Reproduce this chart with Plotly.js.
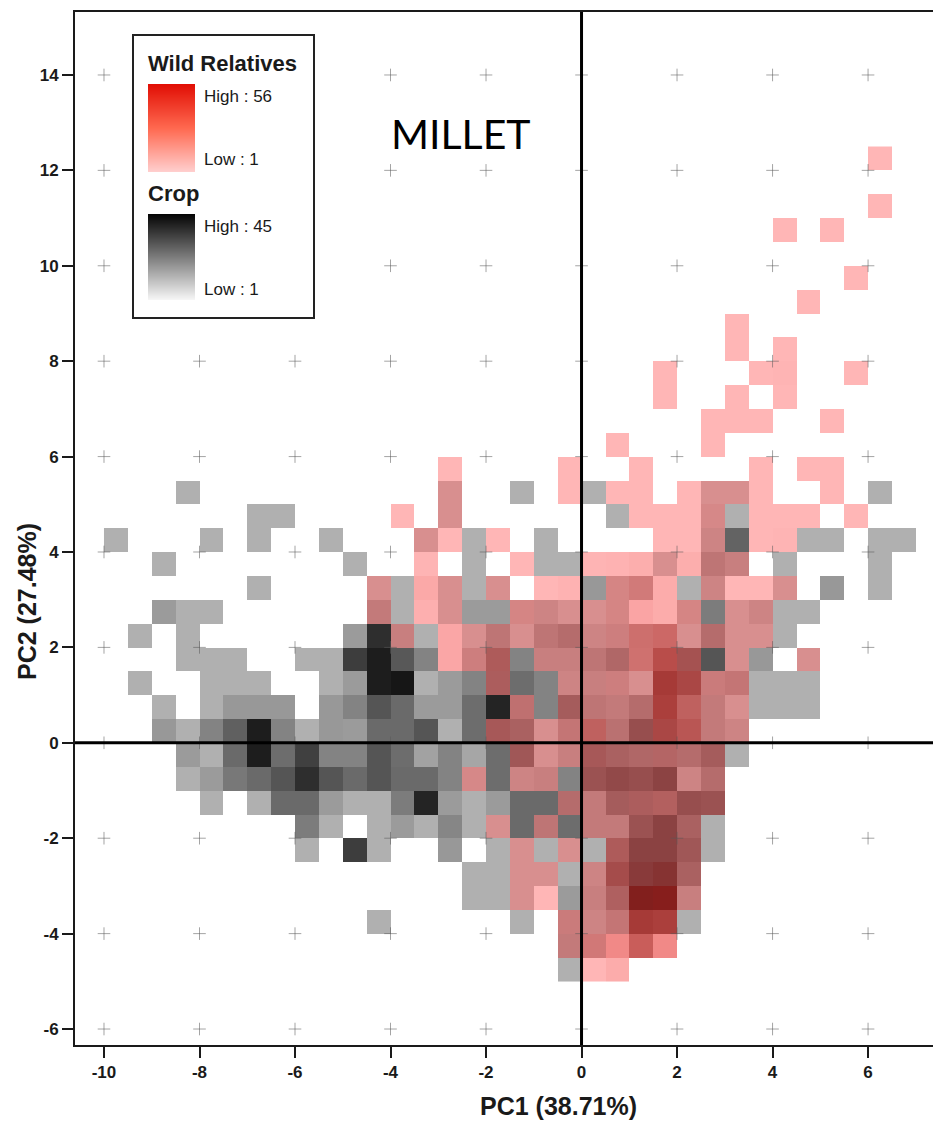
<!DOCTYPE html>
<html>
<head>
<meta charset="utf-8">
<script src="https://cdn.plot.ly/plotly-3.0.1.min.js"></script>
<style>html,body{margin:0;padding:0;background:#fff;overflow:hidden}</style>
</head>
<body>
<div id="chart" style="width:933px;height:1122px"></div>
<script>
// Grid cell centres: 0.5 x 0.5 PCA bins; columns 0..33, rows from PC2 = -5 upward
const cellX = [-9.75,-9.25,-8.75,-8.25,-7.75,-7.25,-6.75,-6.25,-5.75,-5.25,-4.75,-4.25,-3.75,-3.25,-2.75,-2.25,-1.75,-1.25,-0.75,-0.25,0.25,0.75,1.25,1.75,2.25,2.75,3.25,3.75,4.25,4.75,5.25,5.75,6.25,6.75];
const cellY = [-4.75,-4.25,-3.75,-3.25,-2.75,-2.25,-1.75,-1.25,-0.75,-0.25,0.25,0.75,1.25,1.75,2.25,2.75,3.25,3.75,4.25,4.75,5.25,5.75,6.25,6.75,7.25,7.75,8.25,8.75,9.25,9.75,10.25,10.75,11.25,11.75,12.25];

// Crop counts, one entry per row of cellY: {column: count}
const cropRows = [
 {19:1},
 {19:13,20:1,22:1},
 {11:1,17:1,19:8,20:7,21:11,22:21,23:18,24:1},
 {15:1,16:1,17:1,19:7,20:10,21:23,22:43,23:39,24:10},
 {15:1,16:1,17:1,18:1,19:1,20:7,21:26,22:45,23:45,24:27},
 {8:1,10:34,11:1,14:8,16:1,17:1,18:1,19:1,20:1,21:22,22:45,23:45,24:33,25:1},
 {8:16,9:1,11:1,12:7,13:1,14:13,15:1,16:1,17:21,18:16,19:20,20:13,21:13,22:36,23:45,24:27,25:1},
 {4:1,6:1,7:21,8:21,9:7,10:1,11:1,12:16,13:41,14:7,15:1,16:7,17:21,18:21,19:21,20:13,21:30,22:25,23:19,24:38,25:36},
 {3:1,4:7,5:17,6:21,7:27,8:38,9:27,10:21,11:27,12:21,13:21,14:14,15:1,16:20,17:7,18:10,19:14,20:36,21:41,22:38,23:44,24:7,25:21},
 {3:7,4:1,5:21,6:43,7:20,8:33,9:14,10:14,11:27,12:20,13:5,14:14,15:4,16:20,17:33,18:1,19:10,20:28,21:27,22:24,23:20,24:21,25:30,26:1},
 {2:8,3:1,4:14,5:24,6:43,7:14,8:1,9:8,10:7,11:21,12:21,13:27,14:1,15:20,16:28,17:27,18:1,19:11,20:10,21:18,22:38,23:20,24:12,25:13,26:7},
 {2:1,4:1,5:8,6:8,7:8,9:8,10:14,11:27,12:21,13:7,14:7,15:20,16:41,17:14,18:14,19:30,20:16,21:13,22:21,23:18,24:10,25:13,26:1,27:1,28:1,29:1},
 {1:1,4:1,5:1,6:1,9:1,10:7,11:43,12:45,13:1,14:7,15:14,16:25,17:20,18:14,19:7,20:10,21:6,22:1,23:21,24:20,25:8,26:11,27:1,28:1,29:1},
 {3:1,4:1,5:1,8:1,9:1,10:34,11:43,12:26,13:14,15:6,16:22,17:14,18:10,19:10,20:16,21:24,22:1,23:10,24:27,25:27,26:1,27:8,29:1},
 {1:1,3:1,10:7,11:38,12:10,13:1,15:1,16:16,17:1,18:16,19:21,20:7,21:6,22:2,23:1,24:1,25:21,26:1,27:1,28:1},
 {2:7,3:1,4:1,11:13,12:1,14:1,15:7,16:7,17:1,18:7,19:1,20:1,21:1,24:1,25:16,26:1,27:7,28:1,29:1},
 {6:1,11:1,12:1,14:1,15:1,16:1,20:8,21:1,22:1,24:1,25:7,28:1,30:8,32:1},
 {2:1,10:1,15:1,18:1,19:1,23:1,25:16,26:10,28:1,32:1},
 {0:1,4:1,6:1,9:1,13:1,15:1,18:1,25:7,26:23,29:1,30:1,32:1,33:1},
 {6:1,7:1,14:1,21:1,25:1,26:1},
 {3:1,14:1,17:1,20:1,25:1,26:1,32:1},
 {},{},{},{},{},{},{},{},{},{},{},{},{},{}
];

// Wild relative counts, one entry per row of cellY: {column: count}
const wildRows = [
 {20:1,21:12},
 {19:1,20:26,21:50,22:56,23:50},
 {19:9,20:1,21:9,22:56,23:56},
 {17:1,18:1,20:1,21:9,22:43,23:51,24:1},
 {17:1,18:1,20:1,21:26,22:9,23:17,24:1},
 {17:1,19:1,21:17,22:1,23:1,24:1},
 {16:1,18:1,20:1,21:1,22:1,23:1,24:1},
 {19:1,20:1,21:1,22:9,23:17,24:1,25:1},
 {15:8,17:1,18:1,20:1,21:1,22:1,23:1,24:1,25:1},
 {17:1,18:1,19:1,20:9,21:1,22:1,23:9,24:1,25:1},
 {16:9,17:1,18:1,19:9,20:34,21:1,22:1,23:43,24:43,25:1,26:1},
 {17:9,19:1,20:1,21:1,22:1,23:56,24:34,25:1,26:1},
 {16:9,19:1,20:1,21:9,22:1,23:56,24:43,25:9,26:9},
 {14:18,15:9,16:17,18:1,19:1,20:1,21:1,22:34,23:56,24:17,26:1,29:1},
 {12:1,14:18,15:1,16:1,17:1,18:1,19:1,20:1,21:9,22:34,23:44,24:1,25:1,26:1,27:1},
 {11:1,13:8,14:1,17:12,18:1,19:1,20:1,21:12,22:20,23:12,24:12,26:1,27:1},
 {11:1,13:15,14:1,16:1,18:1,19:5,21:12,22:24,23:12,25:1,26:1,27:1,28:1},
 {13:3,17:1,20:3,21:5,22:10,23:1,24:10,25:1,26:1},
 {13:1,14:1,16:1,23:1,24:1,25:1,27:1,28:3},
 {12:1,14:1,22:1,23:1,24:1,25:8,27:1,28:1,29:1,31:1},
 {14:1,19:1,21:1,22:1,24:1,25:1,26:1,27:1,30:1},
 {14:1,19:1,22:1,27:1,29:1,30:1},
 {21:1,25:1},
 {25:1,26:1,27:1,30:1},
 {23:1,26:1,28:1},
 {23:1,27:1,28:3,31:1},
 {26:1,28:1},
 {26:1},
 {29:1},
 {31:1},
 {},
 {28:1,30:1},
 {32:1},
 {},
 {32:1}
];

const xTicks = [-10,-8,-6,-4,-2,0,2,4,6];
const xTickText = ["-10","-8","-6","-4","-2","0","2","4","6"];
const yTicks = [-6,-4,-2,0,2,4,6,8,10,12,14];
const yTickText = ["-6","-4","-2","0","2","4","6","8","10","12","14"];
const legendHidden = ["-8,10","-8,12","-8,14","-6,10","-6,12","-6,14"];
const xTitle = "PC1 (38.71%)";
const yTitle = "PC2 (27.48%)";
const chartLabel = "MILLET";
const wildLegend = ["Wild Relatives","High : 56","Low : 1"];
const cropLegend = ["Crop","High : 45","Low : 1"];
const wildExtent = [1,56];
const cropExtent = [1,45];

const toMatrix = rows => rows.map(r => cellX.map((_,i) => (r[i] === undefined ? null : r[i])));

const W = 933, H = 1122, L = 75, T = 12, B = 77;
const pw = W - L, ph = H - T - B;
const px = v => (v - L) / pw;
const py = v => (H - B - v) / ph;

const gridPts = {x:[], y:[]};
xTicks.forEach(x => yTicks.forEach(y => {
  if (!legendHidden.includes(x + "," + y)) { gridPts.x.push(x); gridPts.y.push(y); }
}));

const traces = [
  {type:"heatmap", x:cellX, y:cellY, z:toMatrix(cropRows), zmin:1, zmax:45,
   colorscale:[[0,"rgb(176,176,176)"],[1,"rgb(22,22,22)"]], showscale:false, hoverinfo:"skip"},
  {type:"heatmap", x:cellX, y:cellY, z:toMatrix(wildRows), zmin:1, zmax:56, opacity:0.5,
   colorscale:[[0,"rgb(255,110,110)"],[1,"rgb(225,10,5)"]], showscale:false, hoverinfo:"skip"},
  {type:"scatter", mode:"markers", x:gridPts.x, y:gridPts.y, hoverinfo:"skip", showlegend:false,
   marker:{symbol:"cross-thin", size:9, line:{width:1, color:"rgba(90,90,90,0.55)"}}},
  {type:"heatmap", xaxis:"x2", yaxis:"y2", x:[0,1], y:[0,1], z:[[wildExtent[0],wildExtent[0]],[wildExtent[1],wildExtent[1]]],
   zsmooth:"best", zmin:1, zmax:56, showscale:false, hoverinfo:"skip",
   colorscale:[[0,"rgb(255,208,208)"],[0.5,"rgb(255,105,80)"],[1,"rgb(225,15,5)"]]},
  {type:"heatmap", xaxis:"x3", yaxis:"y3", x:[0,1], y:[0,1], z:[[cropExtent[0],cropExtent[0]],[cropExtent[1],cropExtent[1]]],
   zsmooth:"best", zmin:1, zmax:45, showscale:false, hoverinfo:"skip",
   colorscale:[[0,"rgb(248,248,248)"],[0.5,"rgb(125,125,125)"],[1,"rgb(5,5,5)"]]}
];

const hiddenAxis = (domain, anchor) => ({domain, anchor, range:[0,1], visible:false, fixedrange:true});
const font = "'Liberation Sans', Arial, sans-serif";
const label = (text, x, y, size, bold, extra) => Object.assign({
  xref:"paper", yref:"paper", x:px(x), y:py(y), xanchor:"left", yanchor:"middle", showarrow:false,
  text: bold ? "<b>"+text+"</b>" : text, font:{family:font, size, color:"#1a1a1a"}
}, extra || {});

const tickFont = {family:font, size:17, color:"#1a1a1a", weight:"bold"};
const layout = {
  width:W, height:H, margin:{l:L, r:0, t:T, b:B, pad:0},
  paper_bgcolor:"#fff", plot_bgcolor:"#fff", showlegend:false,
  xaxis:{range:[-10.607,7.36], tickmode:"array", tickvals:xTicks, ticktext:xTickText, ticks:"outside", ticklen:11, tickwidth:2, tickcolor:"#1a1a1a",
    showline:true, linewidth:2, linecolor:"#1a1a1a", mirror:true, showgrid:false, zeroline:false,
    tickfont:tickFont, fixedrange:true},
  yaxis:{range:[-6.335,15.32], tickmode:"array", tickvals:yTicks, ticktext:yTickText, ticks:"outside", ticklen:11, tickwidth:2, tickcolor:"#1a1a1a",
    showline:true, linewidth:2, linecolor:"#1a1a1a", showgrid:false, zeroline:false,
    tickfont:tickFont, fixedrange:true},
  xaxis2:hiddenAxis([px(148),px(195)],"y2"),
  yaxis2:hiddenAxis([py(172),py(84)],"x2"),
  xaxis3:hiddenAxis([px(148),px(195)],"y3"),
  yaxis3:hiddenAxis([py(300),py(214)],"x3"),
  shapes:[
    {type:"line", xref:"x", yref:"paper", x0:0, x1:0, y0:0, y1:1, line:{color:"#000", width:3}},
    {type:"line", xref:"paper", yref:"y", x0:0, x1:1, y0:0, y1:0, line:{color:"#000", width:3}},
    {type:"rect", xref:"paper", yref:"paper", x0:px(133), x1:px(314), y0:py(318), y1:py(35), line:{color:"#222", width:2}}
  ],
  annotations:[
    label(wildLegend[0],146,63,22,true),
    label(wildLegend[1],202,97,17,false),
    label(wildLegend[2],202,160,17,false),
    label(cropLegend[0],146,194,22,true),
    label(cropLegend[1],202,226,17,false),
    label(cropLegend[2],202,290,17,false),
    label(chartLabel,389,134,41,false,{font:{family:"Lato, 'Open Sans', sans-serif", size:41, color:"#000"}}),
    label(xTitle,558,1106,25,true,{xanchor:"center"}),
    label(yTitle,27,602,25,true,{xanchor:"center", textangle:-90})
  ]
};

Plotly.newPlot("chart", traces, layout, {displayModeBar:false, staticPlot:true});
</script>
</body>
</html>
